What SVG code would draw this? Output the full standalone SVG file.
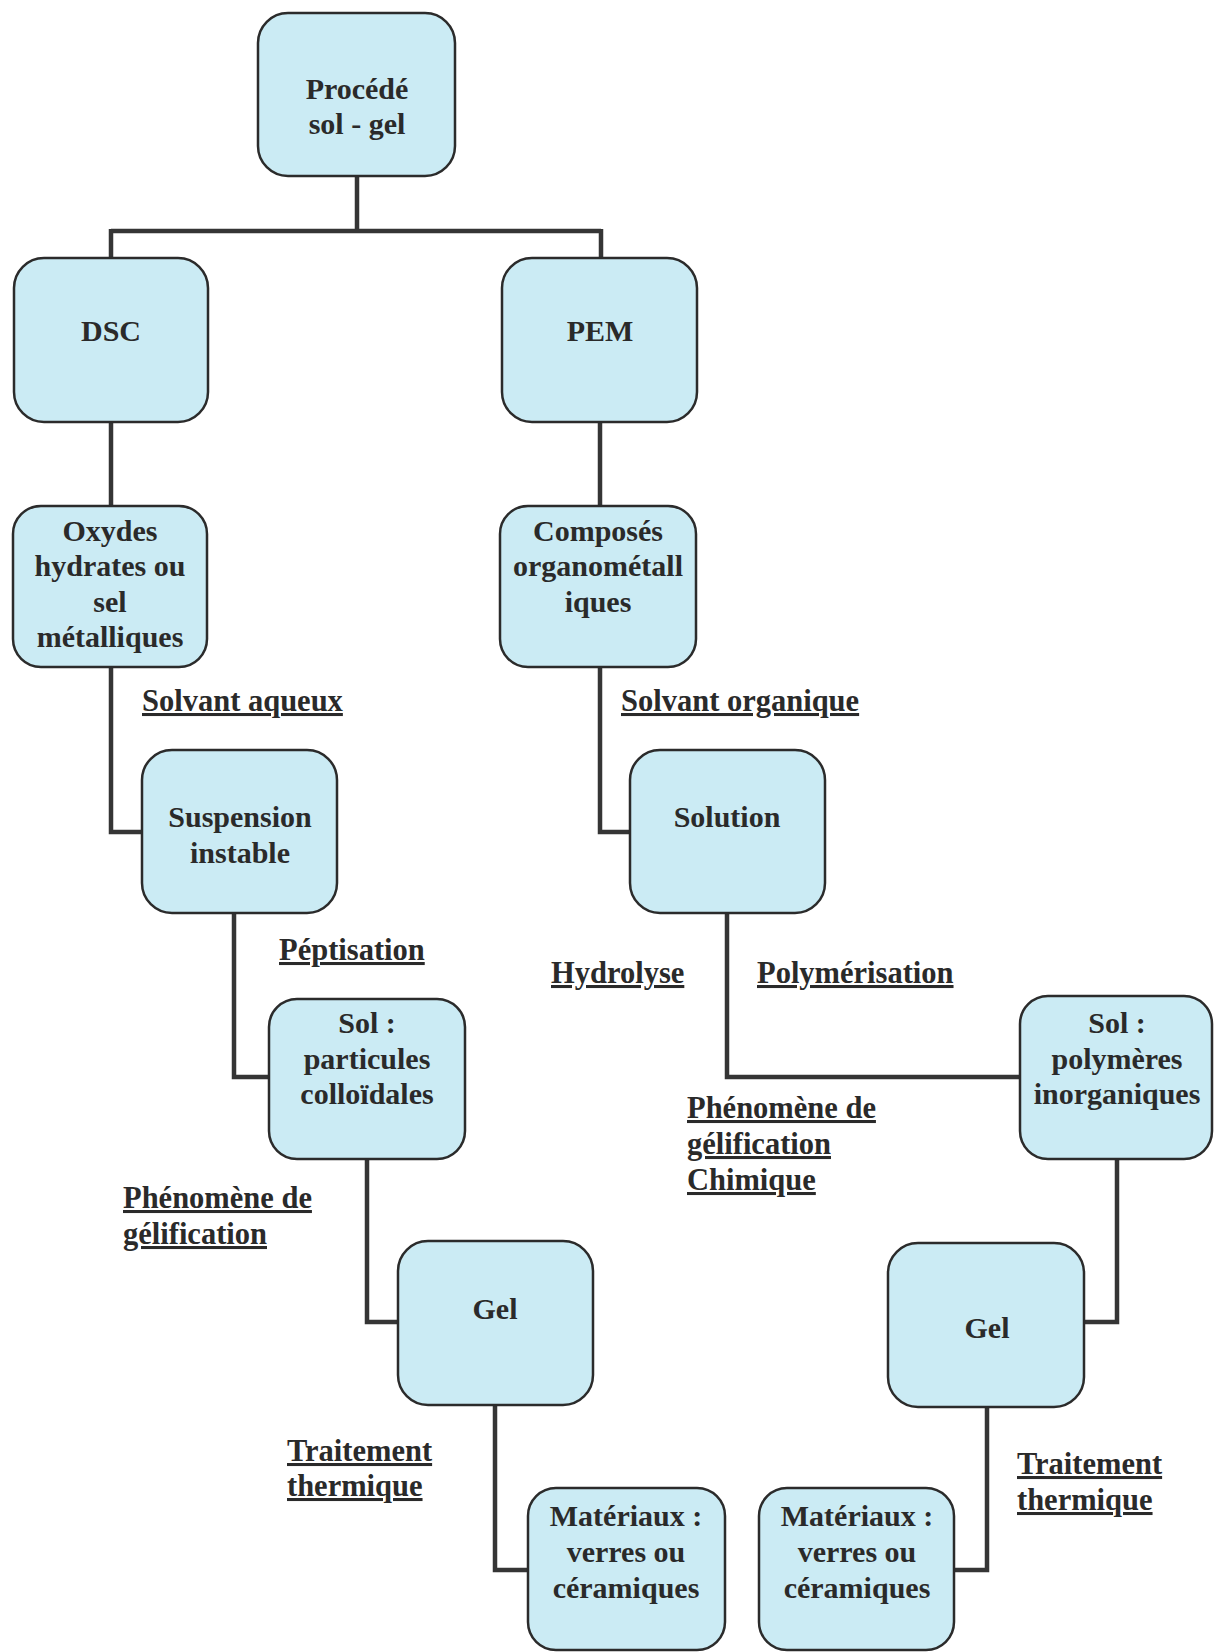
<svg xmlns="http://www.w3.org/2000/svg" width="1214" height="1652" viewBox="0 0 1214 1652">
<style>
.box{fill:#cbebf4;stroke:#2b2b2b;stroke-width:2.5}
.t{font-family:"Liberation Serif","Times New Roman",serif;font-weight:bold;font-size:30px;fill:#2a2a2a;text-anchor:middle}
.l{font-family:"Liberation Serif","Times New Roman",serif;font-weight:bold;font-size:30.5px;fill:#2a2a2a;text-decoration:underline}
.c{fill:none;stroke:#353535;stroke-width:4.5}
</style>
<rect width="1214" height="1652" fill="#ffffff"/>
<g id="connectors">
<path class="c" d="M357,176 V231 M111,231 H601 M111,229 V258 M601,229 V258"/>
<path class="c" d="M111,422 V506"/>
<path class="c" d="M600,422 V506"/>
<path class="c" d="M111,667 V832 H142"/>
<path class="c" d="M234,913 V1077 H269"/>
<path class="c" d="M367,1159 V1322 H398"/>
<path class="c" d="M495,1405 V1570 H528"/>
<path class="c" d="M600,667 V832 H630"/>
<path class="c" d="M727,913 V1077 H1020"/>
<path class="c" d="M1117,1159 V1322 H1084"/>
<path class="c" d="M987,1407 V1570 H954"/>
</g>
<g id="n-procede"><rect class="box" x="258" y="13" width="197" height="163" rx="30"/><text class="t" x="357" y="99">Procédé</text><text class="t" x="357" y="134">sol - gel</text></g>
<g id="n-dsc"><rect class="box" x="14" y="258" width="194" height="164" rx="30"/><text class="t" x="111" y="341">DSC</text></g>
<g id="n-pem"><rect class="box" x="502" y="258" width="195" height="164" rx="30"/><text class="t" x="600" y="341">PEM</text></g>
<g id="n-oxydes"><rect class="box" x="13" y="506" width="194" height="161" rx="28"/><text class="t" x="110" y="541">Oxydes</text><text class="t" x="110" y="576">hydrates ou</text><text class="t" x="110" y="612">sel</text><text class="t" x="110" y="647">métalliques</text></g>
<g id="n-composes"><rect class="box" x="500" y="506" width="196" height="161" rx="28"/><text class="t" x="598" y="541">Composés</text><text class="t" x="598" y="576">organométall</text><text class="t" x="598" y="612">iques</text></g>
<g id="n-suspension"><rect class="box" x="142" y="750" width="195" height="163" rx="30"/><text class="t" x="240" y="827">Suspension</text><text class="t" x="240" y="863">instable</text></g>
<g id="n-solution"><rect class="box" x="630" y="750" width="195" height="163" rx="30"/><text class="t" x="727" y="827">Solution</text></g>
<g id="n-sol-part"><rect class="box" x="269" y="999" width="196" height="160" rx="28"/><text class="t" x="367" y="1033">Sol :</text><text class="t" x="367" y="1069">particules</text><text class="t" x="367" y="1104">colloïdales</text></g>
<g id="n-sol-poly"><rect class="box" x="1020" y="996" width="192" height="163" rx="28"/><text class="t" x="1117" y="1033">Sol :</text><text class="t" x="1117" y="1069">polymères</text><text class="t" x="1117" y="1104">inorganiques</text></g>
<g id="n-gel-l"><rect class="box" x="398" y="1241" width="195" height="164" rx="30"/><text class="t" x="495" y="1319">Gel</text></g>
<g id="n-gel-r"><rect class="box" x="888" y="1243" width="196" height="164" rx="30"/><text class="t" x="987" y="1338">Gel</text></g>
<g id="n-mat-l"><rect class="box" x="528" y="1488" width="197" height="162" rx="28"/><text class="t" x="626" y="1526">Matériaux :</text><text class="t" x="626" y="1562">verres ou</text><text class="t" x="626" y="1598">céramiques</text></g>
<g id="n-mat-r"><rect class="box" x="759" y="1488" width="195" height="162" rx="28"/><text class="t" x="857" y="1526">Matériaux :</text><text class="t" x="857" y="1562">verres ou</text><text class="t" x="857" y="1598">céramiques</text></g>
<g id="labels">
<text class="l" x="142" y="711">Solvant aqueux</text>
<text class="l" x="621" y="711">Solvant organique</text>
<text class="l" x="279" y="960">Péptisation</text>
<text class="l" x="551" y="983">Hydrolyse</text>
<text class="l" x="757" y="983">Polymérisation</text>
<text class="l" x="687" y="1118">Phénomène de</text>
<text class="l" x="687" y="1154">gélification</text>
<text class="l" x="687" y="1190">Chimique</text>
<text class="l" x="123" y="1208">Phénomène de</text>
<text class="l" x="123" y="1244">gélification</text>
<text class="l" x="287" y="1461">Traitement</text>
<text class="l" x="287" y="1496">thermique</text>
<text class="l" x="1017" y="1474">Traitement</text>
<text class="l" x="1017" y="1510">thermique</text>
</g>
</svg>
